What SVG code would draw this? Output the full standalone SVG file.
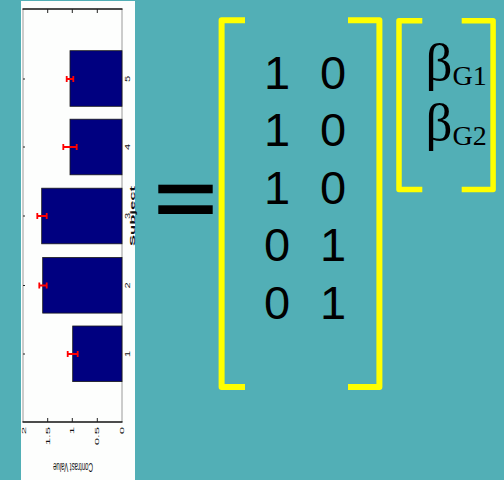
<svg xmlns="http://www.w3.org/2000/svg" width="504" height="480" viewBox="0 0 504 480">
  <style>
    .bar { fill: #000080; stroke: #1a1a1a; stroke-width: 0.8; }
    .err { stroke: #ff0000; stroke-width: 1.8; fill: none; }
    .tick { stroke: #222; stroke-width: 1; }
    .ax { font-family: "Liberation Sans", Arial, sans-serif; fill: #111; }
    .bracket { fill: none; stroke: #ffff00; stroke-width: 6; stroke-linejoin: round; stroke-linecap: butt; }
    .small-bracket { fill: none; stroke: #ffff00; stroke-width: 5.5; stroke-linejoin: round; stroke-linecap: butt; }
    .num { font-family: "Liberation Sans", Arial, sans-serif; font-size: 47px; fill: #000; text-anchor: middle; }
    .beta { font-family: "Liberation Serif", "Times New Roman", serif; fill: #000; }
  </style>

  <!-- slide background -->
  <rect x="0" y="0" width="504" height="480" fill="#52afb6"/>

  <!-- bar chart of contrast values per subject, turned on its side -->
  <g id="chart">
    <rect x="21" y="1" width="114" height="479" fill="#fdfefd"/>
    <!-- axes box -->
    <line x1="23" y1="9" x2="23" y2="422" stroke="#9a9a9a" stroke-width="1"/>
    <line x1="122" y1="9" x2="122" y2="422" stroke="#9a9a9a" stroke-width="1"/>
    <line x1="22.5" y1="9" x2="122.5" y2="9" stroke="#111" stroke-width="1.6"/>
    <line x1="22.5" y1="422" x2="122.5" y2="422" stroke="#111" stroke-width="1.6"/>
    <!-- value ticks -->
    <path class="tick" d="M47.7,9v4 M72.3,9v4 M97.3,9v4 M47.7,422v-4 M72.3,422v-4 M97.3,422v-4"/>
    <!-- subject ticks -->
    <path class="tick" d="M23,79h2 M23,147h2 M23,216h2 M23,285.5h2 M23,354h2"/>

    <!-- bars -->
    <rect class="bar" x="70" y="50.7" width="52" height="55.6"/>
    <rect class="bar" x="70" y="119.2" width="52" height="55.6"/>
    <rect class="bar" x="41.7" y="188.2" width="80.3" height="55.6"/>
    <rect class="bar" x="42.7" y="257.5" width="79.3" height="55.6"/>
    <rect class="bar" x="72.7" y="326" width="49.3" height="55.6"/>

    <!-- error bars -->
    <path class="err" d="M66.7,79H73.3 M66.7,76v6 M73.3,76v6"/>
    <path class="err" d="M63.3,147H76.7 M63.3,144v6 M76.7,144v6"/>
    <path class="err" d="M37.3,216H46.7 M37.3,213v6 M46.7,213v6"/>
    <path class="err" d="M39.3,285.5H46.7 M39.3,282.5v6 M46.7,282.5v6"/>
    <path class="err" d="M67.7,354H77.7 M67.7,351v6 M77.7,351v6"/>

    <!-- subject tick labels -->
    <g class="ax" font-size="6.5" text-anchor="middle" dominant-baseline="central">
      <text transform="translate(127.5,79) rotate(-90) scale(1.7,1)">5</text>
      <text transform="translate(127.5,147) rotate(-90) scale(1.7,1)">4</text>
      <text transform="translate(127.5,216) rotate(-90) scale(1.7,1)">3</text>
      <text transform="translate(127.5,285.5) rotate(-90) scale(1.7,1)">2</text>
      <text transform="translate(127.5,354) rotate(-90) scale(1.7,1)">1</text>
    </g>
    <text class="ax" font-size="8" font-weight="bold" text-anchor="middle" dominant-baseline="central" textLength="60" lengthAdjust="spacingAndGlyphs" transform="translate(132.5,216) rotate(-90)">Subject</text>

    <!-- value tick labels -->
    <g class="ax" font-size="6" text-anchor="end" dominant-baseline="central">
      <text transform="translate(23.5,427) rotate(-90) scale(2.2,1)">2</text>
      <text transform="translate(47.7,427) rotate(-90) scale(2.2,1)">1.5</text>
      <text transform="translate(72.3,427) rotate(-90) scale(2.2,1)">1</text>
      <text transform="translate(97.3,427) rotate(-90) scale(2.2,1)">0.5</text>
      <text transform="translate(121.7,427) rotate(-90) scale(2.2,1)">0</text>
    </g>
    <text class="ax" font-size="12" text-anchor="middle" dominant-baseline="central" textLength="40" lengthAdjust="spacingAndGlyphs" transform="translate(73,466.5) rotate(180)">Contrast Value</text>
  </g>

  <!-- equals sign -->
  <g id="equals">
    <rect x="158.3" y="184.7" width="54.4" height="8.6" fill="#000"/>
    <rect x="158.3" y="205.3" width="54.4" height="8.7" fill="#000"/>
  </g>

  <!-- design matrix -->
  <g id="design-matrix">
    <path class="bracket" d="M245,20.3H221.6V387H245"/>
    <path class="bracket" d="M348,20.3H379.4V387H348"/>
    <g class="num">
      <text x="277" y="88.5">1</text><text x="333" y="88.5">0</text>
      <text x="277" y="146">1</text><text x="333" y="146">0</text>
      <text x="277" y="203.5">1</text><text x="333" y="203.5">0</text>
      <text x="277" y="261">0</text><text x="333" y="261">1</text>
      <text x="277" y="318.5">0</text><text x="333" y="318.5">1</text>
    </g>
  </g>

  <!-- parameter vector -->
  <g id="beta-vector">
    <path class="small-bracket" d="M422.3,20.8H399V189.5H422.3"/>
    <path class="small-bracket" d="M461.7,20.8H493.1V189.5H461.7"/>
    <text class="beta" x="425.5" y="80"><tspan font-size="53">β</tspan><tspan font-size="28" dy="5">G1</tspan></text>
    <text class="beta" x="425.5" y="140"><tspan font-size="53">β</tspan><tspan font-size="28" dy="5">G2</tspan></text>
  </g>
</svg>
